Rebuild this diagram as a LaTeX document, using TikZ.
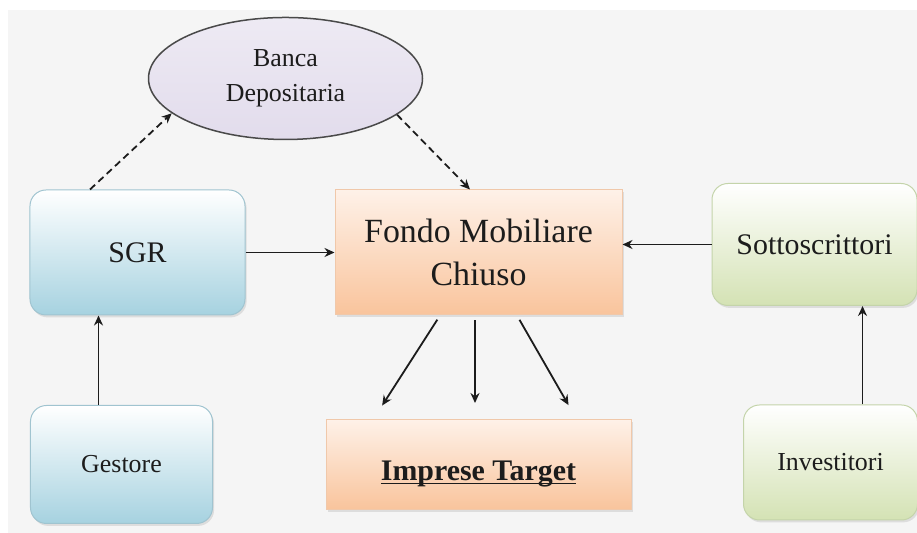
\documentclass[tikz,border=0pt]{standalone}
\usepackage{fontspec}
\setmainfont{Liberation Serif}
\usetikzlibrary{positioning,shapes.geometric,shadows,arrows.meta}
\definecolor{bgray}{RGB}{245,245,245}
\definecolor{sgrblue}{RGB}{166,210,224}
\definecolor{sgredge}{RGB}{160,196,208}
\definecolor{fondoorange}{RGB}{249,196,156}
\definecolor{fondotop}{RGB}{254,241,232}
\definecolor{fondoedge}{RGB}{240,200,170}
\definecolor{sottogreen}{RGB}{212,226,180}
\definecolor{sottoedge}{RGB}{196,212,170}
\definecolor{bancalilac}{RGB}{226,220,236}
\definecolor{inkgray}{RGB}{28,28,28}

\begin{document}
\begin{tikzpicture}[>={Stealth[length=5bp, width=4.5bp]}, x=0.5bp, y=0.5bp, line width=0.9bp, draw=inkgray,
    boxshadow/.style={drop shadow={opacity=0.2, shadow xshift=0.8bp, shadow yshift=-1.2bp}},
    bluebox/.style={draw=sgredge, line width=0.5bp, rounded corners=8bp, top color=white, bottom color=sgrblue, text=inkgray, boxshadow},
    greenbox/.style={draw=sottoedge, line width=0.5bp, rounded corners=8bp, top color=white, bottom color=sottogreen, text=inkgray, boxshadow},
    orangebox/.style={draw=fondoedge, line width=0.5bp, top color=fondotop, bottom color=fondoorange, text=inkgray, boxshadow},
    dashedarrow/.style={->, dash pattern=on 3.5bp off 2.2bp}]
    % background
    \fill[white] (0,0) rectangle (917,533);
    \fill[bgray] (8,0) rectangle (917,523);
    \useasboundingbox (0,0) rectangle (917,533);

    \node[bluebox, minimum width=107.5bp, minimum height=62.5bp, font=\fontsize{15}{18}\selectfont] (SGR) at (137.5,280.5) {SGR};
    \node[orangebox, minimum width=143.5bp, minimum height=62.5bp, align=center, font=\fontsize{17}{21.5}\selectfont, right of=SGR, node distance=170.5bp] (Fondo) {Fondo Mobiliare\\Chiuso};
    \node[greenbox, minimum width=102.5bp, minimum height=61bp, font=\fontsize{15}{18}\selectfont, right of=Fondo, node distance=168bp, yshift=4bp] (Sotto) {Sottoscrittori};
    \node[orangebox, minimum width=152.5bp, minimum height=45bp, text height=18bp, text depth=2bp, font=\fontsize{15}{18}\selectfont\bfseries, below of=Fondo, node distance=106bp] (Imprese) {\underline{\smash{Imprese Target}}};
    \node[bluebox, minimum width=91bp, minimum height=59bp, font=\fontsize{13}{16}\selectfont, below of=SGR, node distance=106bp, xshift=-8bp] (Gestore) {Gestore};
    \node[greenbox, minimum width=87bp, minimum height=57.5bp, font=\fontsize{13}{16}\selectfont, below of=Sotto, node distance=109bp, xshift=8bp] (Invest) {Investitori};
    \node[draw=inkgray!80, ellipse, line width=0.75bp, top color=bancalilac!60, bottom color=bancalilac, minimum width=137bp, minimum height=61bp, inner sep=0pt, align=center, text=inkgray, font=\fontsize{13}{17.5}\selectfont, above of=SGR, node distance=87bp, xshift=74bp] (Banca) {Banca\\Depositaria};

    % connectors
    \draw[dashedarrow] ([xshift=-23.75bp]SGR.north) -- (Banca.197);
    \draw[dashedarrow] (Banca.342) -- ([xshift=-4.25bp]Fondo.north);
    \draw[->] (SGR) -- (Fondo);
    \draw[->] (Sotto.west) -- (Sotto.west -| Fondo.east);
    \draw[->] ([xshift=-11.5bp]Gestore.north) -- ([xshift=-11.5bp]Gestore.north |- SGR.south);
    \draw[->] ([xshift=16bp]Invest.north) -- ([xshift=16bp]Invest.north |- Sotto.south);
    \draw[->, shorten <=2.5bp, shorten >=8bp] ([xshift=-19.25bp]Fondo.south) -- ([xshift=-52.5bp]Imprese.north);
    \draw[->, shorten <=2.5bp, shorten >=8bp] ([xshift=-1.75bp]Fondo.south) -- ([xshift=-1.75bp]Imprese.north);
    \draw[->, shorten <=2.5bp, shorten >=8bp] ([xshift=19.25bp]Fondo.south) -- ([xshift=49bp]Imprese.north);
\end{tikzpicture}
\end{document}
